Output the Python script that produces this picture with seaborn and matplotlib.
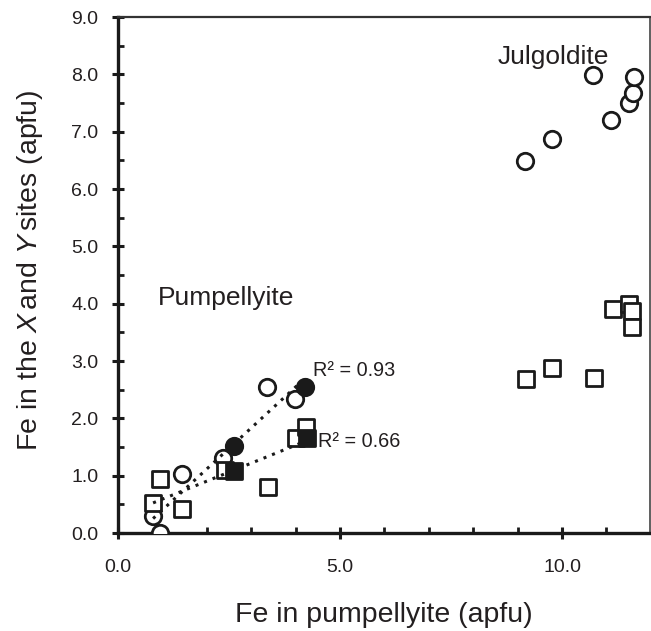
import matplotlib
matplotlib.use("Agg")
import matplotlib.pyplot as plt
import seaborn as sns
import numpy as np
import pandas as pd
from matplotlib.ticker import MultipleLocator

# ---- data ----
pump_circ_open_x = [0.94, 0.79, 1.43, 2.37, 3.35, 3.98]
pump_circ_open_y = [0.00, 0.29, 1.03, 1.31, 2.55, 2.33]
pump_circ_fill_x = [2.61, 4.21]
pump_circ_fill_y = [1.51, 2.55]
pump_sq_open_x = [0.79, 0.95, 1.45, 2.41, 3.37, 4.00, 4.23]
pump_sq_open_y = [0.52, 0.95, 0.41, 1.10, 0.80, 1.66, 1.85]
pump_sq_fill_x = [2.61, 4.25]
pump_sq_fill_y = [1.09, 1.66]
julg_circ_x = [9.17, 9.77, 10.70, 11.10, 11.51, 11.60, 11.62]
julg_circ_y = [6.48, 6.87, 7.98, 7.20, 7.50, 7.68, 7.95]
julg_sq_x = [9.19, 9.78, 10.72, 11.14, 11.51, 11.58, 11.58]
julg_sq_y = [2.68, 2.87, 2.70, 3.90, 4.00, 3.88, 3.60]
r2_labels = ["R² = 0.93", "R² = 0.66"]
x_ticks = [0.0, 5.0, 10.0]
y_ticks = [0.0, 1.0, 2.0, 3.0, 4.0, 5.0, 6.0, 7.0, 8.0, 9.0]

sns.set_style("ticks")
plt.rcParams['font.family'] = ['Liberation Sans', 'DejaVu Sans']
plt.rcParams['mathtext.fontset'] = 'custom'
plt.rcParams['mathtext.rm'] = 'Liberation Sans'
plt.rcParams['mathtext.it'] = 'Liberation Sans:italic'

TXT = '#231f20'
fig = plt.figure(figsize=(6.51, 6.31), dpi=100)
ax = fig.add_axes([118/651, 1-533/631, (650-118)/651, (533-17)/631])

ms_c = 140
ms_s = 125
lw_m = 2.0

# open markers
sns.scatterplot(x=pump_circ_open_x + julg_circ_x, y=pump_circ_open_y + julg_circ_y,
                marker='o', s=ms_c, color='white', edgecolor='#1a1a1a', linewidth=lw_m,
                ax=ax, zorder=3)
sns.scatterplot(x=pump_sq_open_x + julg_sq_x, y=pump_sq_open_y + julg_sq_y,
                marker='s', s=ms_s, color='white', edgecolor='#1a1a1a', linewidth=lw_m,
                ax=ax, zorder=3)

# regression trendlines over pumpellyite points
cx = pump_circ_open_x + pump_circ_fill_x
cy = pump_circ_open_y + pump_circ_fill_y
sx = pump_sq_open_x + pump_sq_fill_x
sy = pump_sq_open_y + pump_sq_fill_y
sns.regplot(x=cx, y=cy, scatter=False, ci=None, truncate=True, ax=ax,
            line_kws=dict(color='#1a1a1a', ls=(0, (1, 2.0)), lw=2.2, zorder=4))
sns.regplot(x=sx, y=sy, scatter=False, ci=None, truncate=True, ax=ax,
            line_kws=dict(color='#1a1a1a', ls=(0, (1, 2.0)), lw=2.2, zorder=4))

# filled markers
sns.scatterplot(x=pump_circ_fill_x, y=pump_circ_fill_y, marker='o', s=ms_c,
                color='#1a1a1a', edgecolor='#1a1a1a', linewidth=lw_m, ax=ax, zorder=5)
sns.scatterplot(x=pump_sq_fill_x, y=pump_sq_fill_y, marker='s', s=ms_s,
                color='#1a1a1a', edgecolor='#1a1a1a', linewidth=lw_m, ax=ax, zorder=5)

ax.set_xlim(0, 11.98)
ax.set_ylim(0, 9.0)
ax.set_xticks(x_ticks)
ax.set_xticklabels([f"{v:.1f}" for v in x_ticks])
ax.set_yticks(y_ticks)
ax.set_yticklabels([f"{v:.1f}" for v in y_ticks])
ax.xaxis.set_minor_locator(MultipleLocator(1.0))
ax.yaxis.set_minor_locator(MultipleLocator(0.5))

ax.tick_params(axis='both', which='major', direction='inout', length=8, width=2.2,
               labelsize=14, labelcolor=TXT, color='#1a1a1a')
ax.tick_params(axis='x', which='major', pad=15)
ax.tick_params(axis='y', which='major', pad=10)
ax.tick_params(axis='both', which='minor', direction='in', length=4, width=2.0, color='#1a1a1a')

for side in ['left', 'bottom']:
    ax.spines[side].set_linewidth(2.4)
    ax.spines[side].set_color('#1a1a1a')
ax.spines['top'].set_visible(True)
ax.spines['top'].set_linewidth(1.6)
ax.spines['top'].set_color('#333333')
ax.spines['right'].set_visible(True)
ax.spines['right'].set_linewidth(1.2)
ax.spines['right'].set_color('#444444')

ax.set_xlabel("Fe in pumpellyite (apfu)", fontsize=20.5, color=TXT)
ax.set_ylabel("Fe in the $\\mathit{X}\\,$and $\\mathit{Y}\\,$sites (apfu)", fontsize=20.5, color=TXT)
ax.xaxis.set_label_coords(0.5, -0.159)
ax.xaxis.label.set_va('center')
ax.yaxis.set_label_coords(-0.165, 0.51)
ax.yaxis.label.set_va('center')

ax.text(0.90, 4.10, "Pumpellyite", fontsize=19, color=TXT, ha='left', va='center')
ax.text(8.55, 8.30, "Julgoldite", fontsize=19, color=TXT, ha='left', va='center')
ax.text(4.38, 2.84, r2_labels[0], fontsize=14.3, color=TXT, ha='left', va='center')
ax.text(4.50, 1.59, r2_labels[1], fontsize=14.3, color=TXT, ha='left', va='center')

fig.savefig("out.png", dpi=100, facecolor='white')
